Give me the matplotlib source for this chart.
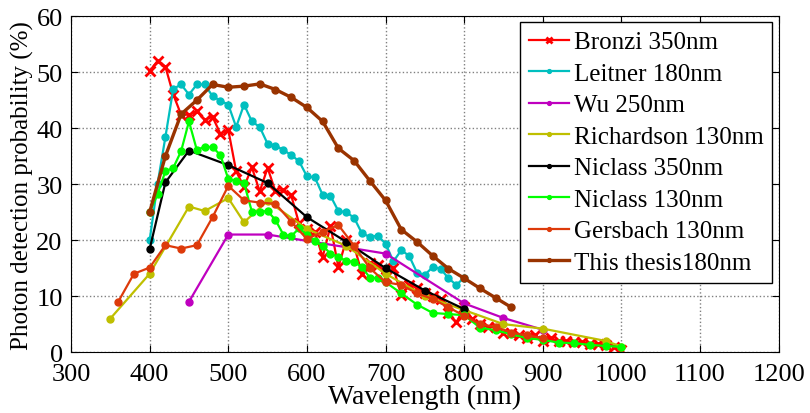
import matplotlib
matplotlib.use("Agg")
import matplotlib.pyplot as plt

plt.rcParams["font.family"] = ["Liberation Serif", "DejaVu Serif"]

# Bronzi 350nm
bronzi_x = [400, 410, 420, 430, 440, 450, 460, 470, 480, 490, 500, 510, 520, 530, 540, 550,
            560, 570, 580, 590, 600, 610, 620, 630, 640, 650, 660, 670, 680, 690, 700, 710,
            720, 730, 740, 750, 760, 770, 780, 790, 800, 810, 820, 830, 840, 850, 860, 870,
            880, 890, 900, 910, 920, 930, 940, 950, 960, 970, 980, 990, 1000]
bronzi_y = [50.2, 52, 51, 46, 42.4, 42.4, 43, 41.5, 42, 39, 39.7, 32.3, 29.5, 33, 28.7, 32.9,
            28.7, 29, 28, 23, 22, 21.5, 17, 22.5, 15.2, 20, 19, 14, 16, 15.5, 13.5, 15,
            10.2, 12, 11.5, 10.5, 10, 9.5, 7, 5.3, 8, 6, 5, 4.5, 4.5, 3.5, 3.5, 3,
            2.5, 3, 2, 2.5, 2, 2, 1.8, 1.8, 1.5, 1.5, 1.3, 1, 0.3]

# Leitner 180nm
leitner_x = list(range(400, 801, 10))
leitner_y = [20, 30, 38.4, 47, 47.8, 46, 47.8, 47.8, 45.7, 44.9, 44.2, 40.2, 44.2, 41.2,
             40.2, 37.2, 36.9, 36.1, 35.2, 34.1, 31.4, 31.2, 28.1, 27.9, 25.2, 25.0, 24.0,
             21.2, 20.6, 20.8, 19.4, 16.2, 18.2, 17.2, 14.2, 13.8, 15.2, 14.9, 13.2, 12.0, 13.3]

# Wu 250nm
wu_x = [450, 500, 550, 700, 800, 850, 900]
wu_y = [9.0, 21.0, 21.0, 17.6, 8.7, 6.1, 4.0]

# Richardson 130nm
rich_x = [350, 400, 450, 470, 500, 520, 550, 600, 650, 700, 750, 800, 850, 900, 980, 1000]
rich_y = [6, 14, 26, 25.2, 27.5, 23.2, 27, 22, 19, 14, 10, 7.5, 5, 4.2, 2, 1]

# Niclass 350nm
nic350_x = [400, 420, 450, 500, 550, 600, 650, 700, 750, 800]
nic350_y = [18.4, 30.3, 36.0, 33.4, 30.2, 24.1, 19.7, 15.0, 11.0, 7.7]

# Niclass 130nm
nic130_x = [400, 410, 420, 430, 440, 450, 460, 470, 480, 490, 500, 510, 520, 530, 540, 550,
            560, 570, 580, 590, 600, 610, 620, 630, 640, 650, 660, 670, 680, 690, 700, 720,
            740, 760, 780, 800, 820, 840, 860, 880, 900, 920, 940, 960, 980, 1000]
nic130_y = [25, 28.2, 32.3, 32.9, 35.9, 41.2, 36.1, 36.7, 36.6, 35.2, 30.9, 30.6, 30.2, 25.1,
            25.1, 25.2, 23.6, 21.0, 20.7, 22.1, 21.0, 19.8, 19.0, 17.6, 17.0, 16.3, 16.1,
            15.2, 13.3, 13.2, 12.5, 10.5, 8.5, 7.0, 6.8, 6.6, 4.4, 3.9, 3.2, 2.5, 2.2, 1.7,
            1.6, 1.3, 1.1, 0.95]

# Gersbach 130nm
gers_x = [360, 380, 400, 420, 440, 460, 480, 500, 520, 540, 560, 580, 600, 620, 640, 660,
          680, 700, 720, 740, 760, 780, 800, 820, 840, 860, 880, 900]
gers_y = [9.0, 14.0, 15.1, 19.1, 18.5, 19.1, 24.1, 29.7, 27.1, 26.7, 26.5, 23.3, 20.2, 21.5,
          22.7, 19.0, 15.0, 12.5, 12, 10.5, 9.5, 8, 6.5, 5, 4.5, 3.5, 3, 2.5]

# This thesis 180nm
thesis_x = [400, 420, 440, 460, 480, 500, 520, 540, 560, 580, 600, 620, 640, 660, 680, 700,
            720, 740, 760, 780, 800, 820, 840, 860]
thesis_y = [25, 35, 42.5, 45, 47.8, 47.3, 47.5, 47.9, 46.9, 45.5, 43.7, 41.2, 36.4, 34.2,
            30.6, 27.1, 21.9, 19.7, 17.2, 14.9, 13.2, 11.4, 9.7, 8.0]

fig = plt.figure(figsize=(8.1, 4.14), dpi=100)
ax = fig.add_axes([0.0877, 0.147, 0.8736, 0.8116])

ax.plot(bronzi_x, bronzi_y, "x-", color="#ff0000", lw=1.6, ms=7, mew=2, label="Bronzi 350nm")
ax.plot(leitner_x, leitner_y, "o-", color="#00bfbf", lw=1.6, ms=5, label="Leitner 180nm")
ax.plot(wu_x, wu_y, "o-", color="#bf00bf", lw=1.6, ms=5, label="Wu 250nm")
ax.plot(rich_x, rich_y, "o-", color="#bfbf00", lw=1.6, ms=5, label="Richardson 130nm")
ax.plot(nic350_x, nic350_y, "o-", color="#000000", lw=1.6, ms=5, label="Niclass 350nm")
ax.plot(nic130_x, nic130_y, "o-", color="#00ff00", lw=1.6, ms=5, label="Niclass 130nm")
ax.plot(gers_x, gers_y, "o-", color="#dd3a0a", lw=1.6, ms=5, label="Gersbach 130nm")
ax.plot(thesis_x, thesis_y, "o-", color="#993300", lw=2.4, ms=5, label="This thesis180nm")

ax.set_xlim(300, 1200)
ax.set_ylim(0, 60)
ax.set_xticks(range(300, 1201, 100))
ax.set_yticks(range(0, 61, 10))
ax.tick_params(direction="in", labelsize=19, length=5, top=True, right=True)
ax.tick_params(axis="x", pad=8)
ax.tick_params(axis="y", pad=6)
ax.grid(True, linestyle=":", color="#808080", lw=1)
ax.set_xlabel("Wavelength (nm)", fontsize=20, labelpad=-1)
ax.set_ylabel("Photon detection probability (%)", fontsize=18, labelpad=2)

leg = ax.legend(loc="upper right", bbox_to_anchor=(0.991, 0.982), fontsize=18,
                handlelength=1.6, handletextpad=0.2, labelspacing=0.36,
                borderpad=0.35, borderaxespad=0, fancybox=False, framealpha=1,
                edgecolor="black", markerscale=0.55)
leg.get_frame().set_linewidth(1)

fig.savefig("out.png", dpi=100)
